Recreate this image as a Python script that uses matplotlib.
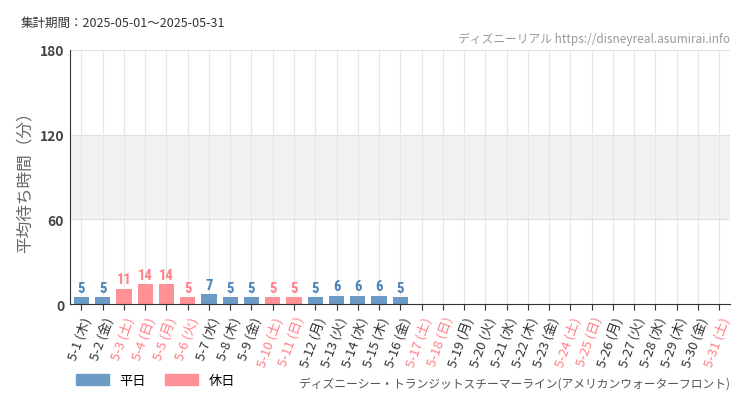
import matplotlib
matplotlib.use("Agg")
import matplotlib.pyplot as plt
from matplotlib.patches import Patch

plt.rcParams['font.family'] = ['Noto Sans CJK JP', 'DejaVu Sans']

days = list(range(1, 32))
weekdays = ['木','金','土','日','月','火','水','木','金','土','日','月','火','水','木','金',
            '土','日','月','火','水','木','金','土','日','月','火','水','木','金','土']
values = [5,5,11,14,14,5,7,5,5,5,5,5,6,6,6,5] + [None]*15
holidays = [3,4,5,6,10,11,17,18,24,25,31]

BLUE = '#6b9ac4'
RED = '#ff9096'
RED_T = '#ff7f86'

fig = plt.figure(figsize=(7.5, 4.1), dpi=100)
ax = fig.add_axes([0.093, 0.256, 0.880, 0.620])
ax.axhspan(60, 120, color='#f2f2f2', zorder=0)
for y in (60, 120, 180):
    ax.axhline(y, color='#e0e0e0', lw=0.8, zorder=1)
for i in range(len(days)):
    ax.axvline(i, color='#e6e6e6', lw=0.8, zorder=1)

for i, (d, v) in enumerate(zip(days, values)):
    if v is None:
        continue
    c = RED if d in holidays else BLUE
    tc = RED_T if d in holidays else '#4a80b8'
    ax.bar(i, v, width=0.72, color=c, zorder=2)
    ax.text(i, v + 1.5, str(v), ha='center', va='bottom', color=tc, fontsize=10.5,
            family=['Roboto Condensed', 'Roboto', 'DejaVu Sans'], fontweight='bold', zorder=3)

ax.set_xlim(-0.55, len(days) - 0.5)
ax.set_ylim(0, 180)
ax.set_yticks([0, 60, 120, 180])
ax.set_yticklabels(['0', '60', '120', '180'], fontweight='bold', color='#444444', fontsize=10)
ax.set_xticks(range(len(days)))
ax.set_xticklabels([f'5-{d} ({w})' for d, w in zip(days, weekdays)], rotation=70,
                   ha='right', rotation_mode='anchor', fontsize=9.5)
for lbl, d in zip(ax.get_xticklabels(), days):
    lbl.set_color(RED_T if d in holidays else '#333333')
ax.tick_params(axis='y', length=0, pad=4)
ax.tick_params(axis='x', length=4, color='#333333')
for s in ('top', 'right'):
    ax.spines[s].set_visible(False)
ax.spines['left'].set_color('#333333')
ax.spines['bottom'].set_color('#333333')
ax.set_ylabel('平均待ち時間（分）', color='#666666', fontsize=12)

fig.text(0.027, 0.935, '集計期間：2025-05-01～2025-05-31', fontsize=9, color='#333333')
fig.text(0.973, 0.895, 'ディズニーリアル https://disneyreal.asumirai.info', fontsize=8.5,
         color='#999999', ha='right')
fig.text(0.973, 0.055, 'ディズニーシー・トランジットスチーマーライン(アメリカンウォーターフロント)',
         fontsize=8.5, color='#555555', ha='right')
fig.legend(handles=[Patch(color=BLUE, label='平日'), Patch(color=RED, label='休日')],
           loc='lower left', bbox_to_anchor=(0.085, 0.025), ncol=2, frameon=False,
           fontsize=9.5, handlelength=2.5, handleheight=0.9, columnspacing=1.5)
fig.savefig('out.png', dpi=100)
